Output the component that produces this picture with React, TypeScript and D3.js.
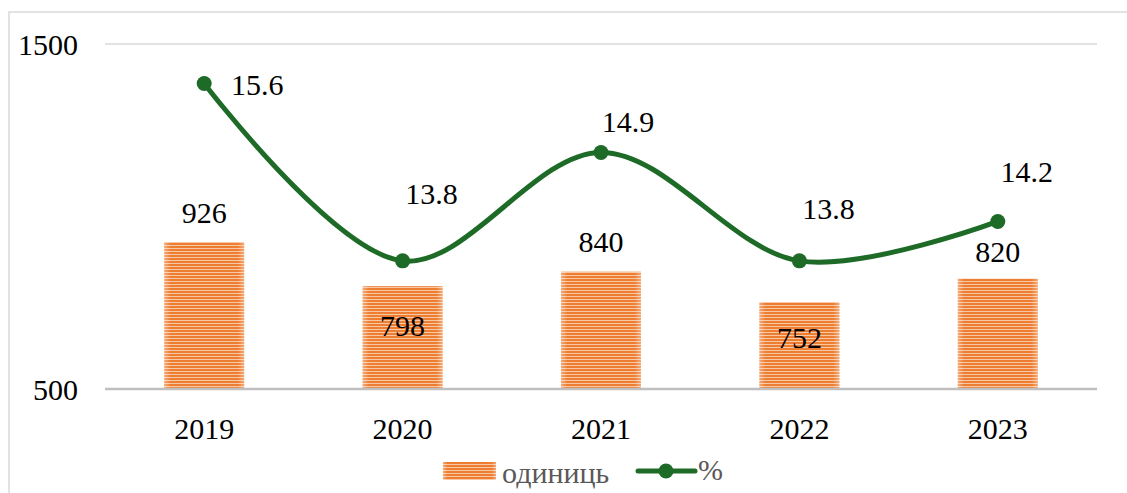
import React from "react";
import * as d3 from "d3";

const categories = ["2019", "2020", "2021", "2022", "2023"];
const units = [926, 798, 840, 752, 820];
const percent = [15.6, 13.8, 14.9, 13.8, 14.2];
const yTicks = [500, 1500];
const seriesNames = ["одиниць", "%"];

// label placement offsets (px) relative to the mark
const barLabelDy = [-30, 39, -30, 35, -27];
const lineLabelOffsets: [number, number][] = [
  [53, 1],
  [29, -67],
  [27, -31],
  [29, -52],
  [29, -50],
];

const W = 1127;
const H = 493;
const plot = { left: 105, right: 1097, top: 44, bottom: 389 };
const FONT = "Liberation Serif, Times New Roman, DejaVu Serif, serif";
const ORANGE = "#ED7D31";
const GREEN = "#1E6B28";
const txt = { fontFamily: FONT, fontSize: 30 };

export default function App() {
  const x = d3
    .scaleBand<string>()
    .domain(categories)
    .range([plot.left, plot.right])
    .paddingInner(0)
    .paddingOuter(0);
  const y = d3.scaleLinear().domain([500, 1500]).range([plot.bottom, plot.top]);
  const y2 = d3.scaleLinear().domain([12.5, 16]).range([plot.bottom, plot.top]);
  const barW = 80;
  const cx = (c: string) => (x(c) as number) + x.bandwidth() / 2;

  const pts: [number, number][] = categories.map((c, i) => [cx(c), y2(percent[i])]);
  const linePath = d3.line().curve(d3.curveCatmullRom.alpha(0.5))(pts) || "";

  return (
    <svg
      width={W}
      height={H}
      style={{ position: "absolute", left: 0, top: 0, background: "#fff" }}
    >
      <defs>
        <pattern id="stripes" width="6" height="3" patternUnits="userSpaceOnUse">
          <rect x="0" y="0" width="6" height="3" fill="#F8C7A4" />
          <rect x="0" y="0" width="6" height="2" fill={ORANGE} />
        </pattern>
        <linearGradient id="edge" x1="0" x2="1" y1="0" y2="0">
          <stop offset="0" stopColor="#fff" stopOpacity="0.35" />
          <stop offset="0.08" stopColor="#fff" stopOpacity="0" />
          <stop offset="0.92" stopColor="#fff" stopOpacity="0" />
          <stop offset="1" stopColor="#fff" stopOpacity="0.35" />
        </linearGradient>
      </defs>
      {/* chart border */}
      <rect x={9} y={12} width={W + 20} height={H + 20} fill="#fff" stroke="#D9D9D9" strokeWidth={1.5} />

      {/* gridline */}
      <line x1={plot.left} x2={plot.right} y1={y(1500)} y2={y(1500)} stroke="#D9D9D9" strokeWidth={1.5} />

      {/* y tick labels */}
      {yTicks.map((t) => (
        <text key={t} x={78} y={y(t)} textAnchor="end" dominantBaseline="central" style={txt} fill="#000">
          {t}
        </text>
      ))}

      {/* bars */}
      {categories.map((c, i) => (
        <g key={c}>
          <rect x={cx(c) - barW / 2} y={y(units[i])} width={barW} height={plot.bottom - y(units[i])} fill="url(#stripes)" />
          <rect x={cx(c) - barW / 2} y={y(units[i])} width={barW} height={plot.bottom - y(units[i])} fill="url(#edge)" />
        </g>
      ))}

      {/* axis line */}
      <line x1={plot.left} x2={plot.right} y1={plot.bottom} y2={plot.bottom} stroke="#BFBFBF" strokeWidth={2.5} />

      {/* bar labels */}
      {categories.map((c, i) => (
        <text key={c} x={cx(c)} y={y(units[i]) + barLabelDy[i]} textAnchor="middle" dominantBaseline="central" style={txt} fill="#000">
          {units[i]}
        </text>
      ))}

      {/* line */}
      <path d={linePath} fill="none" stroke={GREEN} strokeWidth={5} />
      {pts.map((p, i) => (
        <circle key={i} cx={p[0]} cy={p[1]} r={7.5} fill={GREEN} />
      ))}
      {pts.map((p, i) => (
        <text
          key={i}
          x={p[0] + lineLabelOffsets[i][0]}
          y={p[1] + lineLabelOffsets[i][1]}
          textAnchor="middle"
          dominantBaseline="central"
          style={txt}
          fill="#000"
        >
          {percent[i].toFixed(1)}
        </text>
      ))}

      {/* x labels */}
      {categories.map((c) => (
        <text key={c} x={cx(c)} y={428} textAnchor="middle" dominantBaseline="central" style={txt} fill="#000">
          {c}
        </text>
      ))}

      {/* legend */}
      <g>
        <rect x={443} y={462} width={53} height={18} fill="url(#stripes)" />
        <rect x={443} y={462} width={53} height={18} fill="url(#edge)" />
        <text x={502} y={472} dominantBaseline="central" style={txt} fill="#595959">
          {seriesNames[0]}
        </text>
        <line x1={638} x2={695} y1={471} y2={471} stroke={GREEN} strokeWidth={5} strokeLinecap="round" />
        <circle cx={666} cy={471} r={7.5} fill={GREEN} />
        <text x={698} y={469} dominantBaseline="central" style={txt} fill="#595959">
          {seriesNames[1]}
        </text>
      </g>
    </svg>
  );
}
